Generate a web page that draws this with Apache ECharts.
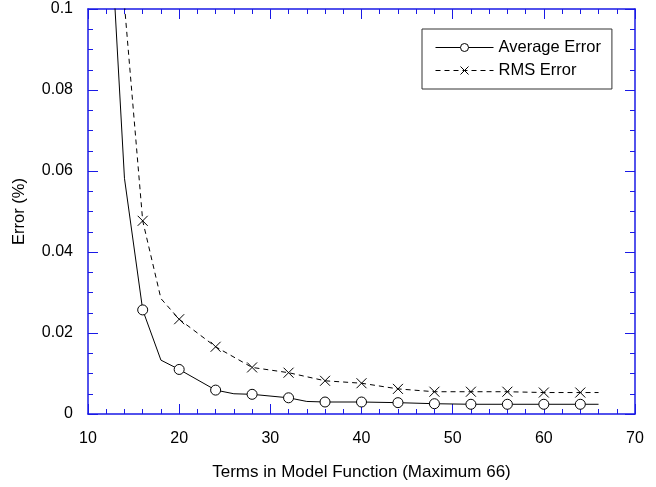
<!DOCTYPE html>
<html>
<head>
<meta charset="utf-8">
<script src="https://cdn.jsdelivr.net/npm/echarts@6/dist/echarts.min.js"></script>
<style>
  html, body { margin: 0; padding: 0; background: #fff; }
  #chart { width: 656px; height: 487px; }
</style>
</head>
<body>
<div id="chart"></div>
<script>
// Number of terms in the model function and the resulting fit errors (%)
const avgTerms = [12, 14, 16, 18, 20, 24, 26, 28, 32, 34, 36, 40, 44, 48, 52, 56, 60, 64, 66];
const avgError = [0.139, 0.0582, 0.0257, 0.0133, 0.0110, 0.0059, 0.0050, 0.00486, 0.0040, 0.0031, 0.00296, 0.00296, 0.0028, 0.00254, 0.0024, 0.0024, 0.0024, 0.0024, 0.0024];

const rmsTerms = [14, 16, 18, 20, 24, 28, 32, 36, 40, 44, 48, 52, 56, 60, 64, 66];
const rmsError = [0.101, 0.0477, 0.0285, 0.0234, 0.0166, 0.0115, 0.0102, 0.0082, 0.0076, 0.0062, 0.0055, 0.0055, 0.0055, 0.0053, 0.0053, 0.0053];

// Terms at which a marker is drawn on each curve
const markerTerms = [16, 20, 24, 28, 32, 36, 40, 44, 48, 52, 56, 60, 64];

const seriesNames = ['Average Error', 'RMS Error'];
const xTickLabels = ['10', '20', '30', '40', '50', '60', '70'];
const yTickLabels = ['0', '0.02', '0.04', '0.06', '0.08', '0.1'];

const FONT = 'Liberation Sans, Arial, Helvetica, sans-serif';
const AXIS_BLUE = '#1a1ae6';
const CROSS = 'path://M0,0L10,10M10,0L0,10';

function buildData(terms, values) {
  return terms.map((t, i) => {
    const item = { value: [t, values[i]] };
    if (markerTerms.indexOf(t) < 0) item.symbol = 'none';
    return item;
  });
}

function frameAxis(extra) {
  return Object.assign({
    axisLine: { show: true, onZero: false, lineStyle: { color: AXIS_BLUE, width: 1.5 } },
    axisTick: { show: true, inside: true, length: 10, lineStyle: { color: AXIS_BLUE, width: 1 } },
    minorTick: { show: true, length: 5, lineStyle: { color: AXIS_BLUE, width: 1 } },
    splitLine: { show: false },
    minorSplitLine: { show: false }
  }, extra);
}

const chart = echarts.init(document.getElementById('chart'), null, { renderer: 'canvas' });

chart.setOption({
  animation: false,
  backgroundColor: '#fff',
  grid: { left: 88, right: 21, top: 9, bottom: 73, containLabel: false },
  legend: {
    orient: 'vertical',
    left: 422,
    top: 29,
    padding: [10, 11, 10, 13],
    borderColor: '#333',
    borderWidth: 1,
    itemWidth: 58,
    itemHeight: 10,
    itemGap: 6,
    lineStyle: { width: 1 },
    itemStyle: { borderWidth: 1 },
    textStyle: { fontFamily: FONT, fontSize: 16.5, color: '#000' },
    data: seriesNames
  },
  xAxis: [
    frameAxis({
      type: 'value', position: 'bottom', min: 10, max: 70, interval: 10,
      minorTick: { show: true, splitNumber: 5, length: 5, lineStyle: { color: AXIS_BLUE, width: 1 } },
      axisLabel: {
        margin: 17, fontFamily: FONT, fontSize: 16, color: '#000',
        formatter: v => xTickLabels[Math.round((v - 10) / 10)]
      },
      name: 'Terms in Model Function (Maximum 66)',
      nameLocation: 'middle', nameGap: 50,
      nameTextStyle: { fontFamily: FONT, fontSize: 17, color: '#000' }
    }),
    frameAxis({
      type: 'value', position: 'top', min: 10, max: 70, interval: 10,
      minorTick: { show: true, splitNumber: 5, length: 5, lineStyle: { color: AXIS_BLUE, width: 1 } },
      axisLabel: { show: false }
    })
  ],
  yAxis: [
    frameAxis({
      type: 'value', position: 'left', min: 0, max: 0.1, interval: 0.02,
      minorTick: { show: true, splitNumber: 4, length: 5, lineStyle: { color: AXIS_BLUE, width: 1 } },
      axisLabel: {
        margin: 15, fontFamily: FONT, fontSize: 16, color: '#000',
        formatter: v => yTickLabels[Math.round(v / 0.02)]
      },
      name: 'Error (%)',
      nameLocation: 'middle', nameGap: 60,
      nameTextStyle: { fontFamily: FONT, fontSize: 16.5, color: '#000' }
    }),
    frameAxis({
      type: 'value', position: 'right', min: 0, max: 0.1, interval: 0.02,
      minorTick: { show: true, splitNumber: 4, length: 5, lineStyle: { color: AXIS_BLUE, width: 1 } },
      axisLabel: { show: false }
    })
  ],
  series: [
    {
      name: seriesNames[0],
      type: 'line',
      xAxisIndex: 0, yAxisIndex: 0,
      clip: true,
      symbol: 'circle',
      symbolSize: 10,
      showSymbol: true,
      color: '#000',
      lineStyle: { color: '#000', width: 1, type: 'solid' },
      itemStyle: { color: '#fff', borderColor: '#000', borderWidth: 1 },
      emphasis: { disabled: true },
      z: 3,
      data: buildData(avgTerms, avgError)
    },
    {
      name: seriesNames[1],
      type: 'line',
      xAxisIndex: 0, yAxisIndex: 0,
      clip: true,
      symbol: CROSS,
      symbolSize: 10,
      showSymbol: true,
      color: '#000',
      lineStyle: { color: '#000', width: 1, type: [5, 4] },
      itemStyle: { color: '#000', borderColor: '#000', borderWidth: 1 },
      emphasis: { disabled: true },
      z: 3,
      data: buildData(rmsTerms, rmsError)
    }
  ]
});
</script>
</body>
</html>
